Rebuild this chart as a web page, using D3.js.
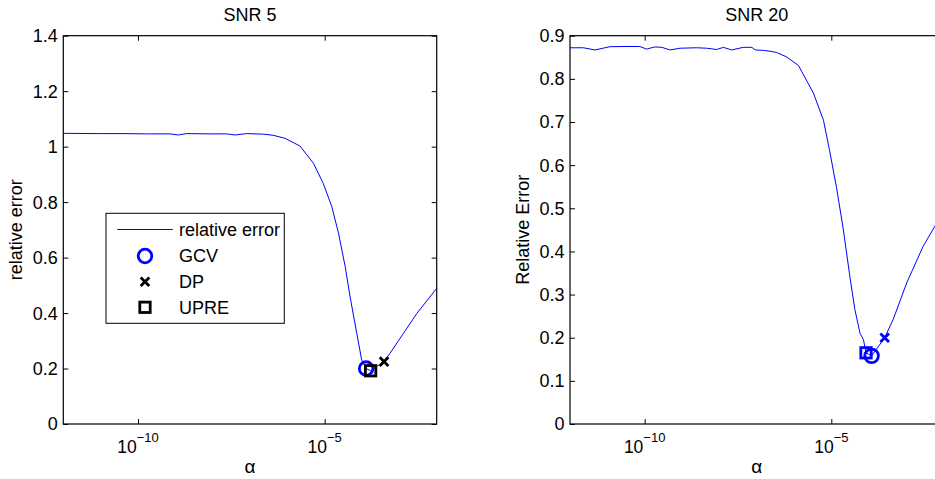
<!DOCTYPE html>
<html>
<head>
<meta charset="utf-8">
<script src="https://cdn.jsdelivr.net/npm/d3@7"></script>
<style>
body { margin: 0; background: #fff; }
svg { display: block; font-family: "Liberation Sans", Arial, sans-serif; }
</style>
</head>
<body>
<div id="chart"></div>
<script>
// log10(alpha) and relative error
var snr5LogAlpha = [-12, -11.1, -10.4, -9.77, -9.14, -8.92, -8.7, -8.1, -7.63, -7.4, -7.09, -6.64, -6.38, -6.06,
  -5.66, -5.3, -5.04, -4.81, -4.63, -4.45, -4.32, -4.14, -4.01, -3.89, -3.77, -3.41, -3.25, -2.89, -2.53, -2.0];
var snr5Error = [1.048, 1.047, 1.047, 1.046, 1.046, 1.042, 1.047, 1.046, 1.046, 1.042, 1.047, 1.045, 1.041, 1.030,
  1.002, 0.940, 0.868, 0.784, 0.688, 0.567, 0.459, 0.327, 0.231, 0.200, 0.192, 0.225, 0.255, 0.327, 0.399, 0.489];

var snr20LogAlpha = [-12, -11.64, -11.33, -10.93, -10.5, -10.13, -9.95, -9.72, -9.54, -9.32, -9.05, -8.61, -8.34,
  -8.07, -7.89, -7.67, -7.36, -7.13, -7.04, -6.82, -6.64, -6.46, -6.2, -5.88, -5.48, -5.21, -5.04, -4.86, -4.68,
  -4.5, -4.37, -4.23, -4.14, -4.07, -3.92, -3.57, -3.34, -2.98, -2.54, -2.22, -2.0];
var snr20Error = [0.872, 0.872, 0.867, 0.8745, 0.875, 0.875, 0.869, 0.874, 0.873, 0.867, 0.871, 0.872, 0.871,
  0.868, 0.873, 0.867, 0.873, 0.873, 0.867, 0.866, 0.864, 0.861, 0.851, 0.831, 0.767, 0.704, 0.631, 0.548, 0.452,
  0.340, 0.266, 0.210, 0.196, 0.165, 0.158, 0.200, 0.243, 0.327, 0.412, 0.459, 0.490];

var markerNames = ["GCV", "DP", "UPRE"];
var snr5MarkLog = [-3.89, -3.41, -3.77];
var snr5MarkErr = [0.200, 0.225, 0.192];
var snr20MarkLog = [-3.92, -3.57, -4.07];
var snr20MarkErr = [0.158, 0.200, 0.165];

var xTickExp = [-10, -5];
var snr5YTicks = [0, 0.2, 0.4, 0.6, 0.8, 1, 1.2, 1.4];
var snr20YTicks = [0, 0.1, 0.2, 0.3, 0.4, 0.5, 0.6, 0.7, 0.8, 0.9];
var titles = ["SNR 5", "SNR 20"];
var yLabels = ["relative error", "Relative Error"];
var legendLabels = ["relative error", "GCV", "DP", "UPRE"];

var width = 935, height = 479;
var blue = "#0000ff";
var axTop = 35.7, axBottom = 424;

var svg = d3.select("#chart").append("svg")
    .attr("width", width)
    .attr("height", height);

var panels = [
  { left: 63.3, right: 436.7, logA: snr5LogAlpha, err: snr5Error, yMax: 1.4, yTicks: snr5YTicks,
    mLog: snr5MarkLog, mErr: snr5MarkErr, colors: { GCV: blue, DP: "#000", UPRE: "#000" },
    order: ["GCV", "DP", "UPRE"], title: titles[0], ylab: yLabels[0], ylabX: 21.5, legend: true },
  { left: 570, right: 943.3, logA: snr20LogAlpha, err: snr20Error, yMax: 0.9, yTicks: snr20YTicks,
    mLog: snr20MarkLog, mErr: snr20MarkErr, colors: { GCV: blue, DP: blue, UPRE: blue },
    order: ["UPRE", "GCV", "DP"], title: titles[1], ylab: yLabels[1], ylabX: 529, legend: false }
];

function drawMarker(g, name, cx, cy, color) {
  if (name === "GCV") {
    g.append("circle").attr("cx", cx).attr("cy", cy).attr("r", 6.8)
      .attr("fill", "none").attr("stroke", color).attr("stroke-width", 2.8);
  } else if (name === "DP") {
    var s = 4.3;
    g.append("path")
      .attr("d", "M" + (cx - s) + "," + (cy - s) + "L" + (cx + s) + "," + (cy + s) +
                 "M" + (cx - s) + "," + (cy + s) + "L" + (cx + s) + "," + (cy - s))
      .attr("stroke", color).attr("stroke-width", 2.8).attr("fill", "none");
  } else {
    var h = 5.2;
    g.append("rect").attr("x", cx - h).attr("y", cy - h).attr("width", 2 * h).attr("height", 2 * h)
      .attr("fill", "none").attr("stroke", color).attr("stroke-width", 2.8);
  }
}

panels.forEach(function(p) {
  var x = d3.scaleLog().domain([1e-12, 1e-2]).range([p.left, p.right]);
  var y = d3.scaleLinear().domain([0, p.yMax]).range([axBottom, axTop]);
  var g = svg.append("g");

  // ticks on all four sides, pointing inward
  var xv = xTickExp.map(function(e) { return Math.pow(10, e); });
  g.append("g").attr("transform", "translate(0," + axBottom + ")")
    .call(d3.axisBottom(x).tickValues(xv).tickSizeInner(-5).tickSizeOuter(0).tickFormat(""));
  g.append("g").attr("transform", "translate(0," + axTop + ")")
    .call(d3.axisTop(x).tickValues(xv).tickSizeInner(-5).tickSizeOuter(0).tickFormat(""));
  g.append("g").attr("transform", "translate(" + p.left + ",0)")
    .call(d3.axisLeft(y).tickValues(p.yTicks).tickSizeInner(-5).tickSizeOuter(0).tickFormat(""));
  g.append("g").attr("transform", "translate(" + p.right + ",0)")
    .call(d3.axisRight(y).tickValues(p.yTicks).tickSizeInner(-5).tickSizeOuter(0).tickFormat(""));
  g.selectAll(".domain").remove();
  g.selectAll(".tick line").attr("stroke", "#000");

  // y tick labels
  g.selectAll(".ylab").data(p.yTicks).enter().append("text")
    .attr("x", p.left - 5.5).attr("y", function(d) { return y(d); })
    .attr("dy", "0.36em").attr("text-anchor", "end")
    .attr("font-size", 18).text(function(d) { return String(d); });

  // x tick labels 10^e
  xTickExp.forEach(function(e) {
    var t = g.append("text").attr("x", x(Math.pow(10, e))).attr("y", 453.3)
      .attr("text-anchor", "middle").attr("font-size", 17.5);
    t.append("tspan").text("10");
    t.append("tspan").attr("dy", -11.6).attr("font-size", 13).text("\u2212" + (-e));
  });

  // curve
  var line = d3.line()
    .x(function(d, i) { return x(Math.pow(10, p.logA[i])); })
    .y(function(d) { return y(d); });
  g.append("path").datum(p.err).attr("d", line)
    .attr("fill", "none").attr("stroke", blue).attr("stroke-width", 1);

  // selected alphas
  p.order.forEach(function(name) {
    var i = markerNames.indexOf(name);
    drawMarker(g, name, x(Math.pow(10, p.mLog[i])), y(p.mErr[i]), p.colors[name]);
  });

  // box
  g.append("rect").attr("x", p.left).attr("y", axTop)
    .attr("width", p.right - p.left).attr("height", axBottom - axTop)
    .attr("fill", "none").attr("stroke", "#000").attr("stroke-width", 1.2);

  // labels
  var cx = (p.left + p.right) / 2;
  g.append("text").attr("x", cx).attr("y", 21).attr("text-anchor", "middle")
    .attr("font-size", 18).text(p.title);
  g.append("text").attr("x", cx).attr("y", 473).attr("text-anchor", "middle")
    .attr("font-size", 19).text("\u03b1");
  g.append("text").attr("transform", "translate(" + p.ylabX + "," + ((axTop + axBottom) / 2) + ") rotate(-90)")
    .attr("text-anchor", "middle").attr("font-size", 18).text(p.ylab);

  if (p.legend) {
    var lg = g.append("g");
    lg.append("rect").attr("x", 106).attr("y", 213.3).attr("width", 178.3).attr("height", 110)
      .attr("fill", "#fff").attr("stroke", "#000").attr("stroke-width", 1);
    var rowY = [229.5, 256, 281.7, 307.3];
    lg.append("line").attr("x1", 117.3).attr("x2", 172.7).attr("y1", rowY[0]).attr("y2", rowY[0])
      .attr("stroke", blue).attr("stroke-width", 1);
    markerNames.forEach(function(name, i) {
      drawMarker(lg, name, 145, rowY[i + 1], p.colors[name]);
    });
    lg.selectAll(".lt").data(legendLabels).enter().append("text")
      .attr("x", 179).attr("y", function(d, i) { return rowY[i]; })
      .attr("dy", "0.36em").attr("font-size", 18).text(function(d) { return d; });
  }
});
</script>
</body>
</html>
